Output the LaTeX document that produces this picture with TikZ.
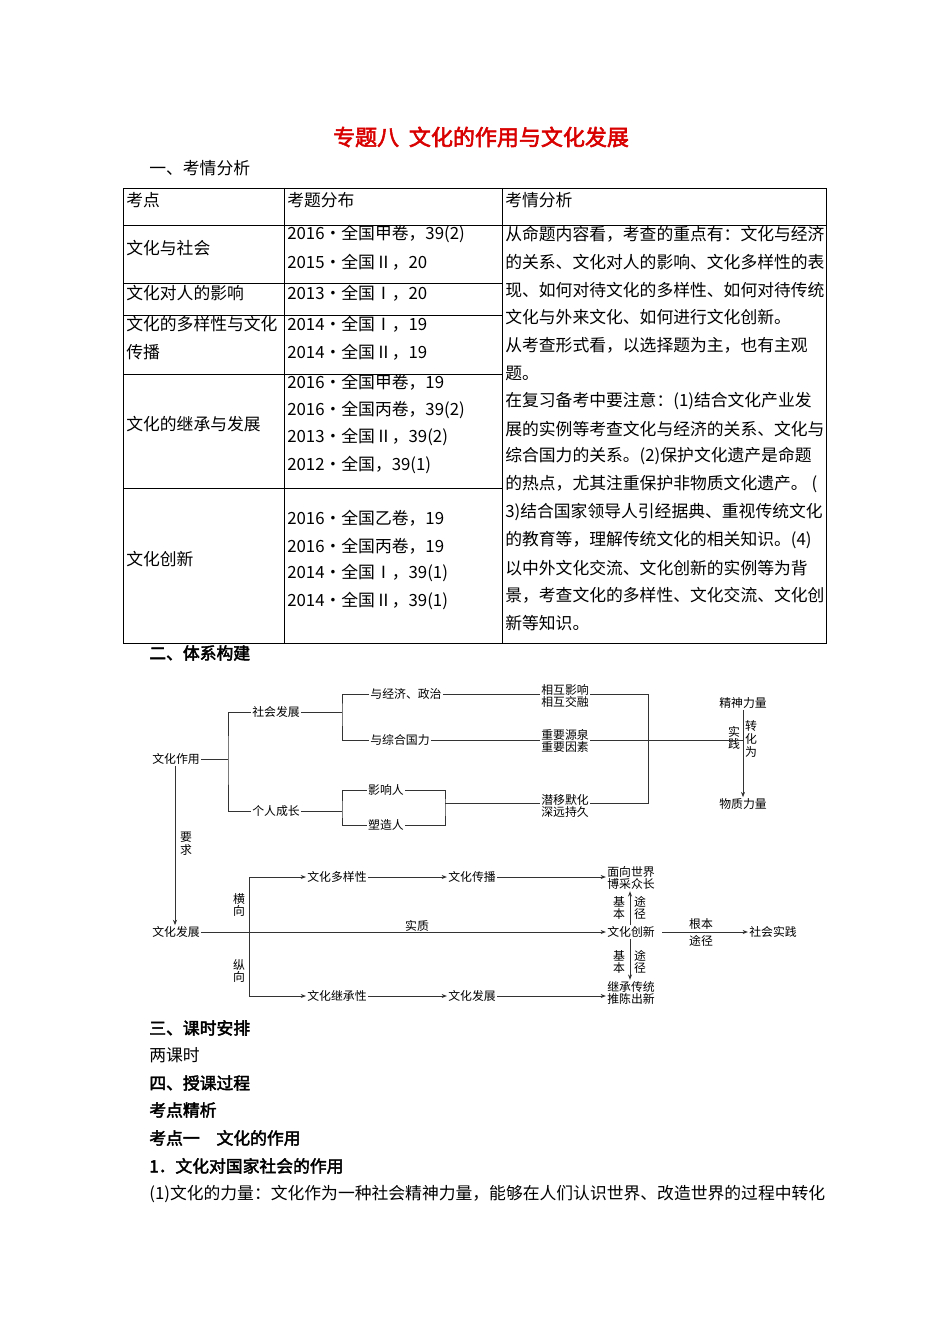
\documentclass[tikz,border=0pt]{standalone}
\usepackage{fontspec}
\setmainfont{Noto Sans CJK SC}[AutoFakeBold=2.5]
\usetikzlibrary{arrows.meta}
\begin{document}
\begin{tikzpicture}[x=0.75pt,y=-0.75pt,
  every node/.style={inner sep=0pt,outer sep=1pt},
  T/.style={anchor=west,font=\fontsize{12.6pt}{14pt}\selectfont},
  D/.style={font=\fontsize{8.9pt}{9.6pt}\selectfont},
  V/.style={font=\fontsize{8.9pt}{9.6pt}\selectfont,align=center,text width=9pt},
  ln/.style={line width=0.6pt,black!80},
  ar/.style={line width=0.6pt,black!80,-{Stealth[length=4pt,width=3pt]}},
  tb/.style={line width=0.6pt}]
\useasboundingbox (0,0) rectangle (950,1344);
% title
\node[font=\fontsize{16.5pt}{18pt}\selectfont\bfseries,text=red!85!black] (title) at (481,137) {专题八\ \ 文化的作用与文化发展};
\node[T] (s1) at (148,168) {一、考情分析};
% table
\draw[tb] (123,188) rectangle (826,643);
\draw[tb] (284,188) -- (284,643) (502,188) -- (502,643);
\draw[tb] (123,225) -- (826,225);
\draw[tb] (123,283) -- (502,283) (123,315) -- (502,315) (123,374) -- (502,374) (123,488) -- (502,488);
\node[T] (h1) at (125,200) {考点};
\node[T] (h2) at (286,200) {考题分布};
\node[T] (h3) at (504,200) {考情分析};
\node[T] (a1) at (125,248) {文化与社会};
\node[T] (a2) at (125,293) {文化对人的影响};
\node[T] (a3) at (125,324) {文化的多样性与文化};
\node[T] (a3b) at (125,352) {传播};
\node[T] (a4) at (125,424) {文化的继承与发展};
\node[T] (a5) at (125,559) {文化创新};
\node[T] (b1) at (286,234) {2016·全国甲卷，39(2)};
\node[T] (b2) at (286,262) {2015·全国Ⅱ，20};
\node[T] (b3) at (286,293) {2013·全国Ⅰ，20};
\node[T] (b4) at (286,324) {2014·全国Ⅰ，19};
\node[T] (b5) at (286,352) {2014·全国Ⅱ，19};
\node[T] (b6) at (286,382) {2016·全国甲卷，19};
\node[T] (b7) at (286,410) {2016·全国丙卷，39(2)};
\node[T] (b8) at (286,437) {2013·全国Ⅱ，39(2)};
\node[T] (b9) at (286,465) {2012·全国，39(1)};
\node[T] (b10) at (286,518) {2016·全国乙卷，19};
\node[T] (b11) at (286,546) {2016·全国丙卷，19};
\node[T] (b12) at (286,573) {2014·全国Ⅰ，39(1)};
\node[T] (b13) at (286,601) {2014·全国Ⅱ，39(1)};
\node[T] (c1) at (504,234) {从命题内容看，考查的重点有：文化与经济};
\node[T] (c2) at (504,262) {的关系、文化对人的影响、文化多样性的表};
\node[T] (c3) at (504,290) {现、如何对待文化的多样性、如何对待传统};
\node[T] (c4) at (504,317) {文化与外来文化、如何进行文化创新。};
\node[T] (c5) at (504,345) {从考查形式看，以选择题为主，也有主观};
\node[T] (c6) at (504,373) {题。};
\node[T] (c7) at (504,401) {在复习备考中要注意：(1)结合文化产业发};
\node[T] (c8) at (504,429) {展的实例等考查文化与经济的关系、文化与};
\node[T] (c9) at (504,456) {综合国力的关系。(2)保护文化遗产是命题};
\node[T] (c10) at (504,484) {的热点，尤其注重保护非物质文化遗产。 (};
\node[T] (c11) at (504,512) {3)结合国家领导人引经据典、重视传统文化};
\node[T] (c12) at (504,540) {的教育等，理解传统文化的相关知识。(4)};
\node[T] (c13) at (504,568) {以中外文化交流、文化创新的实例等为背};
\node[T] (c14) at (504,595) {景，考查文化的多样性、文化交流、文化创};
\node[T] (c15) at (504,623) {新等知识。};
\node[T,font=\fontsize{12.6pt}{14pt}\selectfont\bfseries] (s2) at (148,653) {二、体系构建};
% diagram upper
\node[D] (zy) at (176,759) {文化作用};
\node[D] (shfz) at (276,712) {社会发展};
\node[D] (grcz) at (276,811) {个人成长};
\node[D] (yjj) at (406,694) {与经济、政治};
\node[D] (yzh) at (400,740) {与综合国力};
\node[D] (yxr) at (386,790) {影响人};
\node[D] (szr) at (386,825) {塑造人};
\node[D,align=center] (xh) at (565,696) {相互影响\\相互交融};
\node[D,align=center] (zy2) at (565,741) {重要源泉\\重要因素};
\node[D,align=center] (qy) at (565,806) {潜移默化\\深远持久};
\node[D] (jsl) at (743,703) {精神力量};
\node[D] (wzl) at (743,804) {物质力量};
\node[V] (sj) at (734,738) {实\\践};
\node[V] (zhw) at (751,739) {转\\化\\为};
\draw[ln] (zy.east) -- (228,759);
\draw[ln] (shfz.west) -| (228,759) |- (grcz.west);
\draw[ln] (shfz.east) -- (342,712);
\draw[ln] (yjj.west) -| (342,712) |- (yzh.west);
\draw[ln] (yjj.east) -- (xh.west |- yjj.east);
\draw[ln] (yzh.east) -- (zy2.west |- yzh.east);
\draw[ln] (grcz.east) -- (342,811);
\draw[ln] (yxr.west) -| (342,811) |- (szr.west);
\draw[ln] (yxr.east) -| (445,807) |- (szr.east);
\draw[ln] (445,803) -- (qy.west |- 445,803);
\draw[ln] (xh.east |- 0,694) -| (648,748) |- (qy.east |- 0,803);
\coordinate (jx) at (743,740);
\draw[ln] (zy2.east |- 0,740) -- (jx);
\draw[ar] (jsl.south) -- (wzl.north);
% requirement
\node[D] (wzfz) at (176,932) {文化发展};
\node[V] (yq) at (186,844) {要\\求};
\draw[ar] (zy.south -| 175,0) -- (wzfz.north -| 175,0);
% lower
\node[D] (dyx) at (337,877) {文化多样性};
\node[D] (jcx) at (337,996) {文化继承性};
\node[D] (cb) at (472,877) {文化传播};
\node[D] (fz2) at (472,996) {文化发展};
\node[D,align=center] (mx) at (631,878) {面向世界\\博采众长};
\node[D] (cx) at (631,932) {文化创新};
\node[D,align=center] (jc) at (631,993) {继承传统\\推陈出新};
\node[D] (shsj) at (773,932) {社会实践};
\node[V] (hx) at (239,905) {横\\向};
\node[V] (zx) at (239,971) {纵\\向};
\node[D] (sz) at (417,926) {实质};
\node[D] (gb) at (701,924) {根本};
\node[D] (tj) at (701,941) {途径};
\node[V] (jb1) at (619,908) {基\\本};
\node[V] (tj1) at (640,908) {途\\径};
\node[V] (jb2) at (619,962) {基\\本};
\node[V] (tj2) at (640,962) {途\\径};
\draw[ar] (wzfz.east) -- (cx.west);
\draw[ar] (249,932) |- (dyx.west);
\draw[ar] (249,932) |- (jcx.west);
\draw[ar] (dyx.east) -- (cb.west);
\draw[ar] (jcx.east) -- (fz2.west);
\draw[ar] (cb.east) -- (mx.west |- cb.east);
\draw[ar] (fz2.east) -- (jc.west |- fz2.east);
\draw[ar] (cx.north -| 630,0) -- (mx.south -| 630,0);
\draw[ar] (cx.south -| 630,0) -- (jc.north -| 630,0);
\draw[ar] (cx.east) ++(6,0) -- (shsj.west);
% text below
\node[T,font=\fontsize{12.6pt}{14pt}\selectfont\bfseries] (s3) at (148,1028) {三、课时安排};
\node[T] (s3a) at (148,1055) {两课时};
\node[T,font=\fontsize{12.6pt}{14pt}\selectfont\bfseries] (s4) at (148,1083) {四、授课过程};
\node[T,font=\fontsize{12.6pt}{14pt}\selectfont\bfseries] (s4a) at (148,1110) {考点精析};
\node[T,font=\fontsize{12.6pt}{14pt}\selectfont\bfseries] (s4b) at (148,1138) {考点一\quad 文化的作用};
\node[T,font=\fontsize{12.6pt}{14pt}\selectfont\bfseries] (s4c) at (148,1166) {1．文化对国家社会的作用};
\node[T] (p1) at (148,1194) {(1)文化的力量：文化作为一种社会精神力量，能够在人们认识世界、改造世界的过程中转化};
\end{tikzpicture}
\end{document}
